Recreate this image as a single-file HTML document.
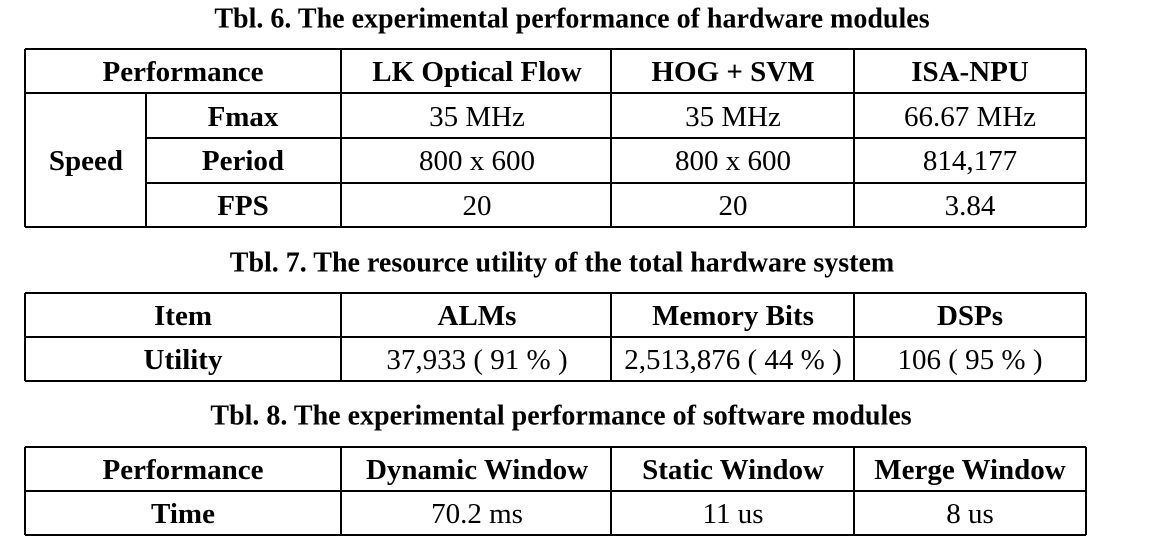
<!DOCTYPE html>
<html><head><meta charset="utf-8"><style>
html,body{margin:0;padding:0;background:#fff;}
svg{display:block;}
text{font-family:"Liberation Serif",serif;font-size:29px;fill:#000;text-anchor:middle;dominant-baseline:central;}
.b{font-weight:bold;}
.t{font-weight:bold;font-size:28px;}
line{stroke:#000;stroke-width:2;}
</style></head><body>
<svg width="1167" height="547" viewBox="0 0 1167 547">
<text class="t" x="572" y="19">Tbl. 6. The experimental performance of hardware modules</text>
<g>
<line x1="25" y1="49" x2="1086" y2="49"/>
<line x1="25" y1="93" x2="1086" y2="93"/>
<line x1="146" y1="138" x2="1086" y2="138"/>
<line x1="146" y1="183" x2="1086" y2="183"/>
<line x1="25" y1="227" x2="1086" y2="227"/>
<line x1="25" y1="49" x2="25" y2="227"/>
<line x1="146" y1="93" x2="146" y2="227"/>
<line x1="341" y1="49" x2="341" y2="227"/>
<line x1="611" y1="49" x2="611" y2="227"/>
<line x1="854" y1="49" x2="854" y2="227"/>
<line x1="1086" y1="49" x2="1086" y2="227"/>
<text class="b" x="183" y="72">Performance</text>
<text class="b" x="477" y="72">LK Optical Flow</text>
<text class="b" x="733" y="72">HOG + SVM</text>
<text class="b" x="970" y="72">ISA-NPU</text>
<text class="b" x="86" y="161">Speed</text>
<text class="b" x="243" y="117">Fmax</text>
<text class="b" x="243" y="161">Period</text>
<text class="b" x="243" y="206">FPS</text>
<text x="477" y="117">35 MHz</text>
<text x="733" y="117">35 MHz</text>
<text x="970" y="117">66.67 MHz</text>
<text x="477" y="161">800 x 600</text>
<text x="733" y="161">800 x 600</text>
<text x="970" y="161">814,177</text>
<text x="477" y="206">20</text>
<text x="733" y="206">20</text>
<text x="970" y="206">3.84</text>
</g>
<text class="t" x="562" y="263">Tbl. 7. The resource utility of the total hardware system</text>
<g>
<line x1="25" y1="293" x2="1086" y2="293"/>
<line x1="25" y1="337" x2="1086" y2="337"/>
<line x1="25" y1="381" x2="1086" y2="381"/>
<line x1="25" y1="293" x2="25" y2="381"/>
<line x1="341" y1="293" x2="341" y2="381"/>
<line x1="611" y1="293" x2="611" y2="381"/>
<line x1="854" y1="293" x2="854" y2="381"/>
<line x1="1086" y1="293" x2="1086" y2="381"/>
<text class="b" x="183" y="316">Item</text>
<text class="b" x="477" y="316">ALMs</text>
<text class="b" x="733" y="316">Memory Bits</text>
<text class="b" x="970" y="316">DSPs</text>
<text class="b" x="183" y="360">Utility</text>
<text x="477" y="360">37,933 ( 91 % )</text>
<text x="733" y="360">2,513,876 ( 44 % )</text>
<text x="970" y="360">106 ( 95 % )</text>
</g>
<text class="t" x="561" y="416">Tbl. 8. The experimental performance of software modules</text>
<g>
<line x1="25" y1="447" x2="1086" y2="447"/>
<line x1="25" y1="491" x2="1086" y2="491"/>
<line x1="25" y1="535" x2="1086" y2="535"/>
<line x1="25" y1="447" x2="25" y2="535"/>
<line x1="341" y1="447" x2="341" y2="535"/>
<line x1="611" y1="447" x2="611" y2="535"/>
<line x1="854" y1="447" x2="854" y2="535"/>
<line x1="1086" y1="447" x2="1086" y2="535"/>
<text class="b" x="183" y="470">Performance</text>
<text class="b" x="477" y="470">Dynamic Window</text>
<text class="b" x="733" y="470">Static Window</text>
<text class="b" x="970" y="470">Merge Window</text>
<text class="b" x="183" y="514">Time</text>
<text x="477" y="514">70.2 ms</text>
<text x="733" y="514">11 us</text>
<text x="970" y="514">8 us</text>
</g>
</svg>
</body></html>
